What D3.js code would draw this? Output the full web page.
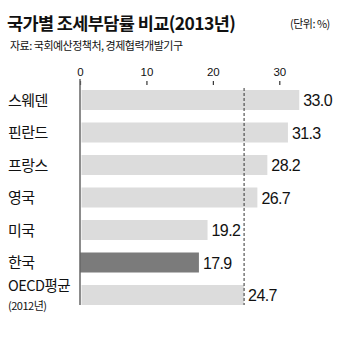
<!DOCTYPE html>
<html>
<head>
<meta charset="utf-8">
<script src="https://cdn.jsdelivr.net/npm/d3@7"></script>
<style>
  html, body { margin: 0; padding: 0; background: #fff; }
  svg { display: block; }
  text { font-family: "Noto Sans CJK KR", "Noto Sans", sans-serif; fill: #111; }
  .num { font-family: "Liberation Sans", Arial, sans-serif; }
</style>
</head>
<body>
<svg id="chart" width="350" height="337"></svg>
<script>
// Tax burden ratio by country, 2013 (%)
const countries = ["스웨덴", "핀란드", "프랑스", "영국", "미국", "한국", "OECD평균"];
const taxBurden = [33.0, 31.3, 28.2, 26.7, 19.2, 17.9, 24.7];
const highlight = "한국";
const oecdAverage = 24.7;
const tickValues = [0, 10, 20, 30];

const svg = d3.select("#chart");

const x = d3.scaleLinear().domain([0, 30]).range([80, 279.3]);
const y = d3.scaleBand()
  .domain(countries)
  .range([90, 305])
  .paddingInner(12.5 / 32.5)
  .paddingOuter(0);

// Title block
svg.append("text")
  .attr("x", 7).attr("y", 30)
  .style("font-size", "17.5px").style("font-weight", "700")
  .style("letter-spacing", "-0.6px")
  .text("국가별 조세부담률 비교(2013년)");

svg.append("text")
  .attr("x", 290).attr("y", 28)
  .style("font-size", "11px").style("letter-spacing", "-0.5px")
  .attr("fill", "#222")
  .text("(단위: %)");

svg.append("text")
  .attr("x", 10).attr("y", 50)
  .style("font-size", "11px").style("letter-spacing", "-0.5px")
  .text("자료: 국회예산정책처, 경제협력개발기구");

// Top axis
const axis = d3.axisTop(x).tickValues(tickValues).tickSize(4).tickPadding(5);
const gAxis = svg.append("g").attr("transform", "translate(0,85)").call(axis);
gAxis.select(".domain").remove();
gAxis.selectAll(".tick line").attr("stroke", "#333").attr("stroke-width", 1.2);
gAxis.selectAll(".tick text")
  .attr("class", "num")
  .style("font-size", "11.5px")
  .attr("fill", "#222");

// Bars
svg.append("g").selectAll("rect")
  .data(countries)
  .join("rect")
  .attr("x", d => d === highlight ? x(0) : x(0) + 1.5)
  .attr("y", d => y(d))
  .attr("width", (d, i) => x(taxBurden[i]) - (d === highlight ? x(0) : x(0) + 1.5))
  .attr("height", y.bandwidth())
  .attr("fill", d => d === highlight ? "#7b7b7b" : "#dcdcdc");

// Zero baseline
svg.append("line")
  .attr("x1", x(0)).attr("x2", x(0))
  .attr("y1", 79).attr("y2", 305)
  .attr("stroke", "#666").attr("stroke-width", 1.5);

// OECD average reference line
svg.append("line")
  .attr("x1", x(oecdAverage)).attr("x2", x(oecdAverage))
  .attr("y1", 88).attr("y2", 305)
  .attr("stroke", "#333").attr("stroke-width", 1)
  .attr("stroke-dasharray", "3,2");

// Value labels
svg.append("g").selectAll("text")
  .data(countries)
  .join("text")
  .attr("class", "num")
  .attr("x", (d, i) => x(taxBurden[i]) + 4)
  .attr("y", d => y(d) + y.bandwidth() / 2 + 6)
  .style("font-size", "16px")
  .style("letter-spacing", "-0.6px")
  .text((d, i) => taxBurden[i].toFixed(1));

// Category labels
svg.append("g").selectAll("text")
  .data(countries)
  .join("text")
  .attr("x", 8)
  .attr("y", d => d === "OECD평균" ? y(d) + 6 : y(d) + y.bandwidth() / 2 + 5.5)
  .style("font-size", d => d === "OECD평균" ? "14.5px" : "15px")
  .style("letter-spacing", "-0.5px")
  .text(d => d);

svg.append("text")
  .attr("x", 8)
  .attr("y", y("OECD평균") + 24.5)
  .style("font-size", "11px")
  .style("letter-spacing", "-0.5px")
  .text("(2012년)");
</script>
</body>
</html>
